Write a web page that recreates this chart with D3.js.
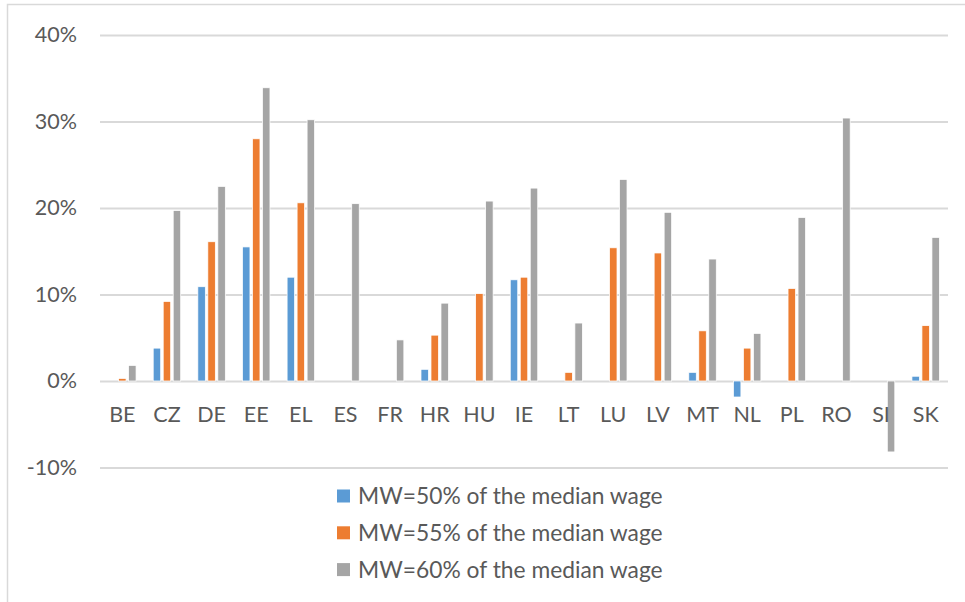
<!DOCTYPE html>
<html><head><meta charset="utf-8">
<script src="https://cdn.jsdelivr.net/npm/d3@7"></script>
<style>body{margin:0;background:#fff}svg{display:block;font-family:Lato,"Open Sans",sans-serif}</style>
</head><body><svg id="c" width="965" height="602"></svg>
<script>
const categories = ["BE","CZ","DE","EE","EL","ES","FR","HR","HU","IE","LT","LU","LV","MT","NL","PL","RO","SI","SK"];
const seriesNames = ["MW=50% of the median wage","MW=55% of the median wage","MW=60% of the median wage"];
const mw50 = [0, 3.8, 10.9, 15.5, 12.0, 0, 0, 1.35, 0, 11.7, 0, 0, 0, 1.0, -1.85, 0, 0, 0, 0.55];
const mw55 = [0.3, 9.2, 16.1, 28.0, 20.6, 0, 0, 5.3, 10.1, 12.0, 1.0, 15.4, 14.8, 5.8, 3.8, 10.7, 0, 0, 6.4];
const mw60 = [1.8, 19.7, 22.5, 33.9, 30.2, 20.5, 4.75, 9.0, 20.8, 22.3, 6.7, 23.3, 19.5, 14.1, 5.5, 18.9, 30.4, -8.2, 16.6];
const yTicks = [-10, 0, 10, 20, 30, 40];
const colors = ["#5b9bd5", "#ed7d31", "#a5a5a5"];

const series = [mw50, mw55, mw60];
const svg = d3.select("#c");

svg.append("rect").attr("x",7.5).attr("y",4.5).attr("width",980).attr("height",620)
  .attr("fill","none").attr("stroke","#d9d9d9").attr("stroke-width",1.5);

const x0 = d3.scaleBand().domain(categories).range([100,948]).paddingInner(0.328).paddingOuter(0.164);
const x1 = d3.scaleBand().domain([0,1,2]).range([0,x0.bandwidth()]).paddingInner(0.25).paddingOuter(0.125);
const y = d3.scaleLinear().domain([-10,40]).range([467.5,35]);

// gridlines
const yAxis = d3.axisLeft(y).tickValues(yTicks).tickSize(-(948-100)).tickFormat(d => d + "%");
const gy = svg.append("g").attr("transform","translate(100,0)").call(yAxis);
gy.select(".domain").remove();
gy.selectAll(".tick line").attr("stroke","#d9d9d9").attr("stroke-width",2);
gy.selectAll(".tick text").attr("x",-23).attr("fill","#595959").attr("font-size",21.5)
  .attr("font-family","Lato, sans-serif");

// bars
const g = svg.append("g");
series.forEach((vals, si) => {
  g.selectAll(".s"+si).data(categories).enter().append("rect")
    .attr("x", (c) => x0(c) + x1(si))
    .attr("width", x1.bandwidth())
    .attr("y", (c,i) => y(Math.max(0, vals[i])))
    .attr("height", (c,i) => Math.abs(y(vals[i]) - y(0)))
    .attr("fill", colors[si])
    .attr("stroke","#fff").attr("stroke-width",0.75);
});

// category axis labels
const xAxis = d3.axisBottom(x0).tickSize(0).tickPadding(0);
const gx = svg.append("g").attr("transform","translate(0,381)").call(xAxis);
gx.select(".domain").remove();
gx.selectAll(".tick text").attr("y",41).attr("dy",0).attr("fill","#595959").attr("font-size",21.5)
  .attr("font-family","Lato, sans-serif");

// legend
const lg = svg.append("g");
seriesNames.forEach((name, i) => {
  const cy = 496 + i*36.8;
  lg.append("rect").attr("x",337).attr("y",cy-6.5).attr("width",13).attr("height",13).attr("fill",colors[i]);
  lg.append("text").attr("x",358).attr("y",cy+8).attr("fill","#595959").attr("font-size",22.8)
    .attr("font-family","Lato, sans-serif").text(name);
});
</script></body></html>
